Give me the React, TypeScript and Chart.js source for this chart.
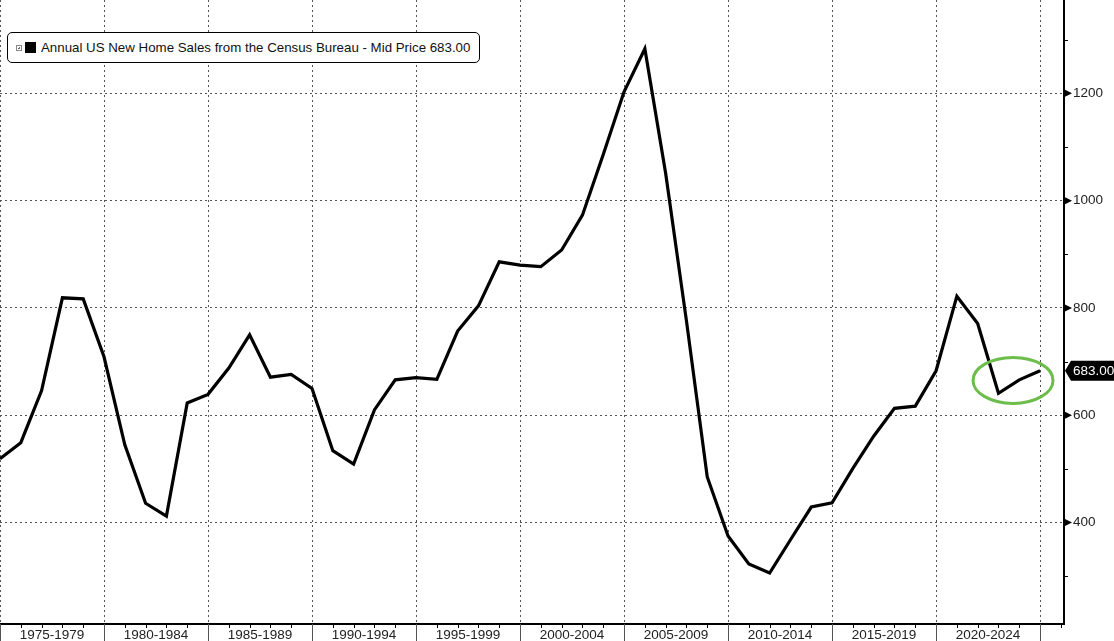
import React, { useEffect, useRef } from 'react';
import { Chart, registerables } from 'chart.js';

Chart.register(...registerables);

// ---- Data ----
const YEARS = [
  1974, 1975, 1976, 1977, 1978, 1979, 1980, 1981, 1982, 1983, 1984,
  1985, 1986, 1987, 1988, 1989, 1990, 1991, 1992, 1993, 1994,
  1995, 1996, 1997, 1998, 1999, 2000, 2001, 2002, 2003, 2004,
  2005, 2006, 2007, 2008, 2009, 2010, 2011, 2012, 2013, 2014,
  2015, 2016, 2017, 2018, 2019, 2020, 2021, 2022, 2023, 2024,
];
const SALES = [
  519, 549, 646, 819, 817, 709, 545, 436, 412, 623, 639,
  688, 750, 671, 676, 650, 534, 509, 610, 666, 670,
  667, 757, 804, 886, 880, 877, 908, 973, 1086, 1203,
  1283, 1051, 776, 485, 375, 323, 306, 368, 429, 437,
  501, 561, 613, 617, 683, 822, 771, 641, 666, 683,
];
const PERIOD_LABELS = [
  '1975-1979', '1980-1984', '1985-1989', '1990-1994', '1995-1999',
  '2000-2004', '2005-2009', '2010-2014', '2015-2019', '2020-2024',
];
const PERIOD_GRID = [1974, 1979, 1984, 1989, 1994, 1999, 2004, 2009, 2014, 2019, 2024];
const PERIOD_MID = [1976.5, 1981.5, 1986.5, 1991.5, 1996.5, 2001.5, 2006.5, 2011.5, 2016.5, 2021.5];
const Y_MAJOR = [400, 600, 800, 1000, 1200];
const Y_MINOR = [300, 500, 700, 900, 1100, 1300];
const X_MIN = 1974;
const X_MAX = 2025.15;
const Y_MIN = 211;
const Y_MAX = 1374;
const LEGEND_TEXT = 'Annual US New Home Sales from the Census Bureau - Mid Price 683.00';
const LAST_LABEL = '683.00';
const ELLIPSE_CENTER = { x: 2022.7, y: 665 };

const FONT = '"Liberation Sans", Arial, sans-serif';

const decorPlugin = {
  id: 'decor',
  afterDraw(chart: any) {
    const { ctx, chartArea, scales } = chart;
    const x = scales.x;
    const y = scales.y;
    ctx.save();
    // x-axis tick marks
    const allYears = [...YEARS, 2025];
    allYears.forEach((yr) => {
      const px = Math.round(x.getPixelForValue(yr)) + 0.5;
      const major = PERIOD_GRID.includes(yr);
      ctx.beginPath();
      ctx.lineWidth = 1;
      ctx.strokeStyle = major ? '#555' : '#000';
      ctx.moveTo(px, chartArea.bottom);
      ctx.lineTo(px, major ? chart.height : chartArea.bottom + 4);
      ctx.stroke();
    });
    // y-axis tick marks
    const r = chartArea.right;
    ctx.fillStyle = '#000';
    Y_MAJOR.forEach((v) => {
      const py = y.getPixelForValue(v);
      ctx.beginPath();
      ctx.moveTo(r + 1, py - 3.5);
      ctx.lineTo(r + 8, py);
      ctx.lineTo(r + 1, py + 3.5);
      ctx.closePath();
      ctx.fill();
    });
    ctx.strokeStyle = '#000';
    ctx.lineWidth = 1;
    Y_MINOR.forEach((v) => {
      const py = Math.round(y.getPixelForValue(v)) + 0.5;
      ctx.beginPath();
      ctx.moveTo(r, py);
      ctx.lineTo(r + 4, py);
      ctx.stroke();
    });
    // ellipse annotation
    ctx.beginPath();
    ctx.strokeStyle = '#6dbd4c';
    ctx.lineWidth = 3;
    ctx.ellipse(
      x.getPixelForValue(ELLIPSE_CENTER.x),
      y.getPixelForValue(ELLIPSE_CENTER.y),
      40, 23, 0, 0, Math.PI * 2
    );
    ctx.stroke();
    // last value label
    const lastV = SALES[SALES.length - 1];
    const ly = y.getPixelForValue(lastV);
    ctx.beginPath();
    ctx.fillStyle = '#000';
    ctx.moveTo(r + 1, ly);
    ctx.lineTo(r + 7, ly - 10);
    ctx.lineTo(chart.width, ly - 10);
    ctx.lineTo(chart.width, ly + 10);
    ctx.lineTo(r + 7, ly + 10);
    ctx.closePath();
    ctx.fill();
    ctx.fillStyle = '#fff';
    ctx.font = `13.5px ${FONT}`;
    ctx.textBaseline = 'middle';
    ctx.textAlign = 'left';
    ctx.fillText(LAST_LABEL, r + 9, ly + 0.5);
    ctx.restore();
  },
};

export default function App() {
  const ref = useRef<HTMLCanvasElement>(null);

  useEffect(() => {
    const canvas = ref.current;
    if (!canvas) return;
    const chart = new Chart(canvas, {
      type: 'line',
      data: {
        datasets: [
          {
            data: YEARS.map((yr, i) => ({ x: yr, y: SALES[i] })),
            borderColor: '#000',
            borderWidth: 3.2,
            pointRadius: 0,
            tension: 0,
            fill: false,
          },
        ],
      },
      options: {
        responsive: false,
        animation: false,
        layout: { padding: 0 },
        plugins: { legend: { display: false }, tooltip: { enabled: false } },
        scales: {
          x: {
            type: 'linear',
            min: X_MIN,
            max: X_MAX,
            afterBuildTicks: (s: any) => {
              const vals = [...PERIOD_GRID, ...PERIOD_MID].sort((a, b) => a - b);
              s.ticks = vals.map((v) => ({ value: v }));
            },
            afterFit: (s: any) => {
              s.height = 17;
              s.paddingLeft = 0;
              s.paddingRight = 0;
              s.paddingTop = 0;
              s.paddingBottom = 0;
            },
            grid: {
              drawTicks: false,
              lineWidth: 1,
              color: (c: any) =>
                c.tick && PERIOD_GRID.includes(c.tick.value) ? '#555' : 'rgba(0,0,0,0)',
            },
            border: { display: true, color: '#000', width: 2, dash: [2, 3] },
            ticks: {
              autoSkip: false,
              maxRotation: 0,
              padding: 3,
              color: '#222',
              font: { family: FONT, size: 13.5 },
              callback: (v: any) => {
                const idx = PERIOD_MID.indexOf(Number(v));
                return idx >= 0 ? PERIOD_LABELS[idx] : '';
              },
            },
          },
          y: {
            type: 'linear',
            position: 'right',
            min: Y_MIN,
            max: Y_MAX,
            afterBuildTicks: (s: any) => {
              const vals = [...Y_MAJOR, ...Y_MINOR].sort((a, b) => a - b);
              s.ticks = vals.map((v) => ({ value: v }));
            },
            afterFit: (s: any) => {
              s.width = 50;
              s.paddingLeft = 0;
              s.paddingRight = 0;
              s.paddingTop = 0;
              s.paddingBottom = 0;
            },
            grid: {
              drawTicks: false,
              lineWidth: 1,
              color: (c: any) =>
                c.tick && Y_MAJOR.includes(c.tick.value) ? '#555' : 'rgba(0,0,0,0)',
            },
            border: { display: true, color: '#000', width: 2, dash: [2, 3] },
            ticks: {
              padding: 9,
              color: '#222',
              font: { family: FONT, size: 13.5 },
              callback: (v: any) => (Y_MAJOR.includes(Number(v)) ? String(v) : ''),
            },
          },
        },
      },
      plugins: [decorPlugin],
    } as any);
    return () => chart.destroy();
  }, []);

  return (
    <div
      style={{
        position: 'fixed',
        left: 0,
        top: 0,
        width: 1114,
        height: 641,
        background: '#fff',
        overflow: 'hidden',
      }}
    >
      <canvas ref={ref} width={1114} height={641} style={{ display: 'block' }} />
      <div
        style={{
          position: 'absolute',
          left: 7,
          top: 32,
          width: 473,
          height: 31,
          boxSizing: 'border-box',
          border: '1px solid #000',
          borderRadius: 5,
          background: '#fff',
          display: 'flex',
          alignItems: 'center',
          fontFamily: FONT,
          fontSize: 13.3,
          color: '#111',
          whiteSpace: 'nowrap',
        }}
      >
        <span
          style={{
            position: 'relative',
            display: 'inline-block',
            width: 6,
            height: 6,
            border: '1px solid #888',
            marginLeft: 8,
            boxSizing: 'border-box',
          }}
        >
          <span style={{ position: 'absolute', left: 1, top: 2, width: 2, height: 1, background: '#666' }} />
          <span style={{ position: 'absolute', left: 2, top: 1, width: 1, height: 2, background: '#666' }} />
        </span>
        <span
          style={{
            display: 'inline-block',
            width: 11,
            height: 11,
            background: '#000',
            marginLeft: 3,
          }}
        />
        <span style={{ marginLeft: 5 }}>{LEGEND_TEXT}</span>
      </div>
    </div>
  );
}
